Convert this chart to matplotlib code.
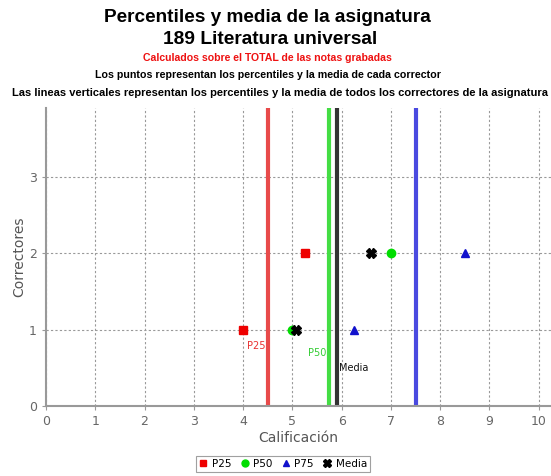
import matplotlib
matplotlib.use("Agg")
import matplotlib.pyplot as plt
from matplotlib.lines import Line2D

correctores = [1, 2]
p25 = [4.0, 5.25]
p50 = [5.0, 7.0]
p75 = [6.25, 8.5]
media = [5.08, 6.6]

global_p25 = 4.5
global_p50 = 5.75
global_p75 = 7.5
global_media = 5.9

xticks = list(range(0, 11))
yticks = [0, 1, 2, 3]

W, H = 551, 476
fig = plt.figure(figsize=(W / 100, H / 100), dpi=100)
fig.patch.set_facecolor("white")

left, right, top, bottom = 46, 551, 108, 406
ax = fig.add_axes([left / W, 1 - bottom / H, (right - left) / W, (bottom - top) / H])
ax.set_xlim(0, 10.25)
ax.set_ylim(0, 3.9)

ax.set_xticks(xticks)
ax.set_yticks(yticks)
ax.grid(True, color="#999999", linestyle=(0, (2, 2)), linewidth=0.8)
ax.set_axisbelow(True)
for s in ["top", "right"]:
    ax.spines[s].set_visible(False)
for s in ["left", "bottom"]:
    ax.spines[s].set_color("#999999")
    ax.spines[s].set_linewidth(1.5)
ax.tick_params(colors="#999999", labelsize=9, length=3, labelcolor="#666666")

# vertical lines
ax.axvline(global_p25, color="#e84a4a", linewidth=3)
ax.axvline(global_p50, color="#44dd44", linewidth=3)
ax.axvline(global_media, color="#333333", linewidth=3)
ax.axvline(global_p75, color="#4a4ae0", linewidth=3)

ax.text(global_p25 - 0.05, 0.79, "P25", color="#e83030", fontsize=7, ha="right", va="center")
ax.text(global_p50 - 0.05, 0.69, "P50", color="#33cc33", fontsize=7, ha="right", va="center")
ax.text(global_media + 0.05, 0.50, "Media", color="#111111", fontsize=7, ha="left", va="center")

ax.plot(p25, correctores, "s", color="#ee0000", markersize=6, linestyle="none")
ax.plot(p50, correctores, "o", color="#00dd00", markersize=6, linestyle="none")
ax.plot(p75, correctores, "^", color="#1111cc", markersize=6, linestyle="none")
ax.plot(media, correctores, "X", color="#000000", markersize=7, linestyle="none")

ax.set_xlabel("Calificación", fontsize=10, color="#555555", labelpad=2)
ax.set_ylabel("Correctores", fontsize=10, color="#555555", labelpad=2)

# titles
fig.text(0.486, 1 - 18 / H, "Percentiles y media de la asignatura", ha="center", va="center",
         fontsize=13.7, fontweight="bold", family="Liberation Sans")
fig.text(0.491, 1 - 40 / H, "189 Literatura universal", ha="center", va="center",
         fontsize=13.8, fontweight="bold", family="Liberation Sans")
fig.text(0.486, 1 - 58 / H, "Calculados sobre el TOTAL de las notas grabadas", ha="center", va="center",
         fontsize=7.6, fontweight="bold", color="#ee1111", family="Liberation Sans")
fig.text(0.487, 1 - 75 / H, "Los puntos representan los percentiles y la media de cada corrector", ha="center", va="center",
         fontsize=7.7, fontweight="bold", family="Liberation Sans")
fig.text(12 / W, 1 - 93 / H, "Las lineas verticales representan los percentiles y la media de todos los correctores de la asignatura",
         ha="left", va="center", fontsize=8.0, fontweight="bold", family="Liberation Sans")

handles = [
    Line2D([], [], marker="s", color="#ee0000", linestyle="none", markersize=5),
    Line2D([], [], marker="o", color="#00dd00", linestyle="none", markersize=5),
    Line2D([], [], marker="^", color="#1111cc", linestyle="none", markersize=5),
    Line2D([], [], marker="X", color="#000000", linestyle="none", markersize=6),
]
leg = fig.legend(handles, ["P25", "P50", "P75", "Media"], loc="center", bbox_to_anchor=(283 / W, 1 - 464 / H),
                 ncol=4, fontsize=7.5, frameon=True, fancybox=False, handlelength=0.8, handletextpad=0.4,
                 columnspacing=0.9, borderpad=0.3, edgecolor="#888888")
leg.get_frame().set_linewidth(0.8)

fig.savefig("out.png", dpi=100)
